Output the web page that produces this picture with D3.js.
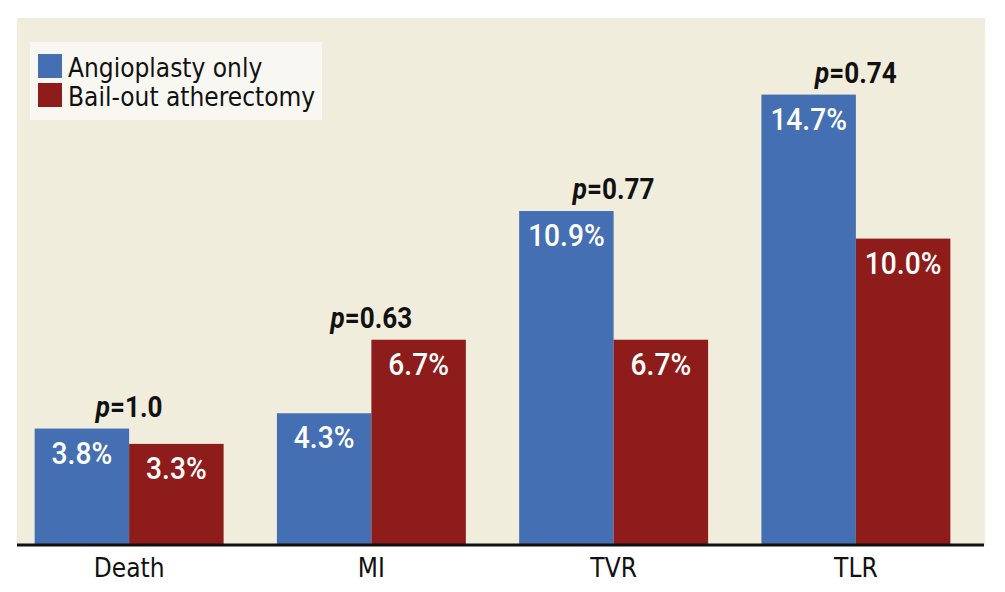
<!DOCTYPE html>
<meta charset="utf-8">
<head>
    <style>
        body { margin: 0; background: #fff; }
        text { font-family: "DejaVu Sans Condensed", "Liberation Sans Narrow", sans-serif; }
        .val { fill: #fff; font-family: Roboto, sans-serif; font-weight: 500; font-size: 32px; }
        .pval { fill: #111; font-family: Roboto, sans-serif; font-weight: 700; font-size: 29px; }
        .cat { fill: #111; font-size: 26px; }
        .leg { fill: #111; font-size: 26px; }
    </style>
    <script src="https://d3js.org/d3.v7.min.js"></script>
</head>
<div id="my_dataviz"></div>

<script>

// chart values
var categories = ["Death", "MI", "TVR", "TLR"];
var seriesNames = ["Angioplasty only", "Bail-out atherectomy"];
var angioplasty = [3.8, 4.3, 10.9, 14.7];
var atherectomy = [3.3, 6.7, 6.7, 10.0];
var pValues = ["1.0", "0.63", "0.77", "0.74"];

var colors = ["#4470b3", "#8e1c1a"];

var width = 1005, height = 592;

var svg = d3.select("#my_dataviz")
  .append("svg")
    .attr("width", width)
    .attr("height", height);

// beige panel
svg.append("rect")
    .attr("x", 17).attr("y", 18)
    .attr("width", 968).attr("height", 527)
    .attr("fill", "#f1eddc");

var x0 = d3.scaleBand()
    .domain(categories)
    .range([8, 977])
    .paddingInner(0.22)
    .paddingOuter(0.11);

var x1 = d3.scaleBand()
    .domain([0, 1])
    .range([0, x0.bandwidth()]);

var y = d3.scaleLinear()
    .domain([0, 17.2])
    .range([545, 18]);

var rows = categories.map(function(c, i) {
    return { cat: c, vals: [angioplasty[i], atherectomy[i]], p: pValues[i] };
});

var groups = svg.selectAll(".grp")
    .data(rows)
    .enter().append("g")
    .attr("class", "grp")
    .attr("transform", function(d) { return "translate(" + x0(d.cat) + ",0)"; });

groups.selectAll("rect")
    .data(function(d) { return d.vals; })
    .enter().append("rect")
    .attr("x", function(d, i) { return x1(i); })
    .attr("y", function(d) { return y(d); })
    .attr("width", x1.bandwidth())
    .attr("height", function(d) { return y(0) - y(d); })
    .attr("fill", function(d, i) { return colors[i]; });

// value labels, squeezed a bit to look condensed
groups.selectAll(".val")
    .data(function(d) { return d.vals; })
    .enter().append("text")
    .attr("class", "val")
    .attr("text-anchor", "middle")
    .attr("transform", function(d, i) {
        return "translate(" + (x1(i) + x1.bandwidth() / 2) + "," + (y(d) + 35) + ") scale(0.88,1)";
    })
    .text(function(d) { return d.toFixed(1) + "%"; });

// p-values above the taller bar
var pt = groups.append("text")
    .attr("class", "pval")
    .attr("text-anchor", "middle")
    .attr("transform", function(d) {
        return "translate(" + (x0.bandwidth() / 2) + "," + (y(d3.max(d.vals)) - 12) + ") scale(0.9,1)";
    });
pt.append("tspan").attr("font-style", "italic").text("p");
pt.append("tspan").text(function(d) { return "=" + d.p; });

// x axis
var xAxis = svg.append("g")
    .attr("transform", "translate(0,545)")
    .call(d3.axisBottom(x0).tickSize(0).tickPadding(14));
xAxis.select(".domain").attr("d", "M17,0H984").attr("stroke", "#111").attr("stroke-width", 3);
xAxis.selectAll("text")
    .attr("class", "cat")
    .attr("font-family", null)
    .attr("font-size", null)
    .attr("fill", null)
    .attr("dy", "0.71em");

// legend
svg.append("rect")
    .attr("x", 30).attr("y", 42)
    .attr("width", 292).attr("height", 78)
    .attr("fill", "#f8f7f1");

var leg = svg.selectAll(".legitem")
    .data(seriesNames)
    .enter().append("g")
    .attr("class", "legitem")
    .attr("transform", function(d, i) { return "translate(38," + (54 + i * 29) + ")"; });
leg.append("rect")
    .attr("width", 24).attr("height", 24)
    .attr("fill", function(d, i) { return colors[i]; });
leg.append("text")
    .attr("class", "leg")
    .attr("x", 30).attr("y", 23)
    .text(function(d) { return d; });

</script>
